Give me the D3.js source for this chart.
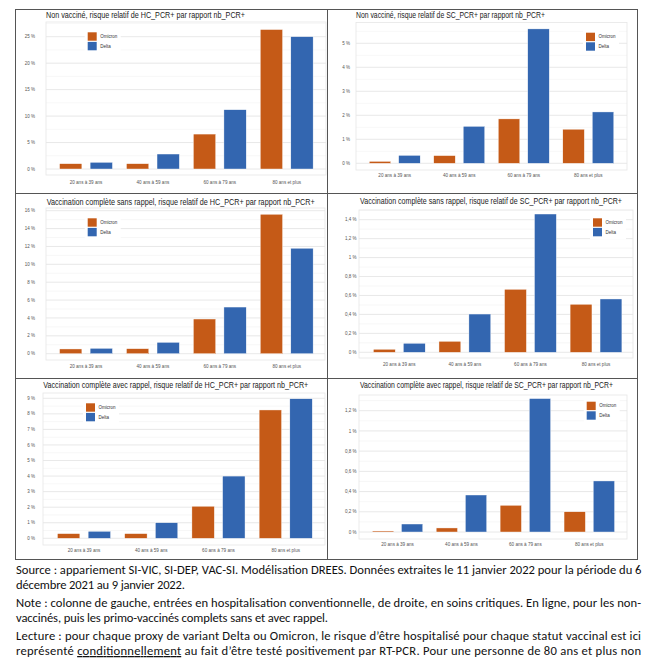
<!DOCTYPE html>
<html><head><meta charset="utf-8">
<script src="https://cdn.jsdelivr.net/npm/d3@7"></script>
<style>
html,body{margin:0;padding:0;background:#fff;}
svg{display:block;}
</style></head>
<body>
<svg id="c" width="646" height="658"></svg>
<script>
// ---------- DATA ----------
const categories = ["20 ans à 39 ans","40 ans à 59 ans","60 ans à 79 ans","80 ans et plus"];
const seriesNames = ["Omicron","Delta"];
const titles = [
  "Non vacciné, risque relatif de HC_PCR+ par rapport nb_PCR+",
  "Non vacciné, risque relatif de SC_PCR+ par rapport nb_PCR+",
  "Vaccination complète sans rappel, risque relatif de HC_PCR+ par rapport nb_PCR+",
  "Vaccination complète sans rappel, risque relatif de SC_PCR+ par rapport nb_PCR+",
  "Vaccination complète avec rappel, risque relatif de HC_PCR+ par rapport nb_PCR+",
  "Vaccination complète avec rappel, risque relatif de SC_PCR+ par rapport nb_PCR+"
];
// values in %
const omicronNvHc = [1.0, 1.0, 6.6, 26.35];
const deltaNvHc   = [1.26, 2.83, 11.2, 25.0];
const omicronNvSc = [0.08, 0.32, 1.85, 1.42];
const deltaNvSc   = [0.33, 1.54, 5.6, 2.14];
const omicronSrHc = [0.53, 0.56, 3.88, 15.6];
const deltaSrHc   = [0.6, 1.27, 5.22, 11.8];
const omicronSrSc = [0.032, 0.116, 0.665, 0.507];
const deltaSrSc   = [0.095, 0.404, 1.46, 0.563];
const omicronArHc = [0.3, 0.3, 2.06, 8.25];
const deltaArHc   = [0.45, 1.0, 4.0, 8.97];
const omicronArSc = [0.01, 0.04, 0.264, 0.2];
const deltaArSc   = [0.079, 0.366, 1.32, 0.505];
// y ticks
const ticksNvHc = [0, 5, 10, 15, 20, 25];
const ticksNvSc = [0, 1, 2, 3, 4, 5];
const ticksSrHc = [0, 2, 4, 6, 8, 10, 12, 14, 16];
const ticksSrSc = [0, 0.2, 0.4, 0.6, 0.8, 1, 1.2, 1.4];
const ticksArHc = [0, 1, 2, 3, 4, 5, 6, 7, 8, 9];
const ticksArSc = [0, 0.2, 0.4, 0.6, 0.8, 1, 1.2];

const noteLines = [
  "Source : appariement SI-VIC, SI-DEP, VAC-SI. Modélisation DREES. Données extraites le 11 janvier 2022 pour la période du 6",
  "décembre 2021 au 9 janvier 2022.",
  "Note : colonne de gauche, entrées en hospitalisation conventionnelle, de droite, en soins critiques. En ligne, pour les non-",
  "vaccinés, puis les primo-vaccinés complets sans et avec rappel.",
  "Lecture : pour chaque proxy de variant Delta ou Omicron, le risque d’être hospitalisé pour chaque statut vaccinal est ici",
  ["représenté ", "conditionnellement", " au fait d’être testé positivement par RT-PCR. Pour une personne de 80 ans et plus non"]
];

// ---------- LAYOUT ----------
const colors = {Omicron: "#C55A17", Delta: "#3366B0"};
const panels = [
  {om: omicronNvHc, de: deltaNvHc, ticks: ticksNvHc, title: 0,
   L: 46, R: 326, T: 22, B: 175, y0: 169, yT: 36.7, c1: 86, c4: 286.7,
   tx: 46, ty: 18, tw: 199, lx: 35, xly: 183.5, legX: 87.7, legY: 32.3},
  {om: omicronNvSc, de: deltaNvSc, ticks: ticksNvSc, title: 1,
   L: 356, R: 627, T: 22.5, B: 170, y0: 163.3, yT: 43.3, c1: 394.7, c4: 588.3,
   tx: 356, ty: 18, tw: 189, lx: 350, xly: 177, legX: 586, legY: 32.7},
  {om: omicronSrHc, de: deltaSrHc, ticks: ticksSrHc, title: 2,
   L: 46, R: 325, T: 208, B: 360, y0: 353.7, yT: 210.7, c1: 86, c4: 286.7,
   tx: 46.7, ty: 204.5, tw: 268, lx: 35, xly: 368, legX: 87.7, legY: 218.3},
  {om: omicronSrSc, de: deltaSrSc, ticks: ticksSrSc, title: 3,
   L: 359, R: 633, T: 210, B: 358, y0: 352.3, yT: 219.7, c1: 399.3, c4: 596,
   tx: 360, ty: 204, tw: 262, lx: 356.5, xly: 366, legX: 593, legY: 218.3},
  {om: omicronArHc, de: deltaArHc, ticks: ticksArHc, title: 4,
   L: 43, R: 325, T: 393, B: 545, y0: 538.3, yT: 398.3, c1: 84, c4: 285.7,
   tx: 43.3, ty: 388.3, tw: 265, lx: 35, xly: 552, legX: 86, legY: 403.3},
  {om: omicronArSc, de: deltaArSc, ticks: ticksArSc, title: 5,
   L: 359, R: 627, T: 395, B: 539, y0: 532, yT: 410.7, c1: 397.5, c4: 589.3,
   tx: 360, ty: 387.7, tw: 253, lx: 356.5, xly: 546, legX: 586.7, legY: 401.7}
];

const fr = d3.formatLocale({decimal: ",", thousands: " ", grouping: [3], currency: ["", " €"]});
const fmt = v => fr.format("~g")(v) + " %";

const svg = d3.select("#c");
const chartFont = "'Liberation Sans', Arial, sans-serif";

panels.forEach(p => {
  const g = svg.append("g");
  const y = d3.scaleLinear().domain([0, p.ticks[p.ticks.length - 1]]).range([p.y0, p.yT]);
  const x = d3.scalePoint().domain(categories).range([p.c1, p.c4]);
  const step = x.step();
  const sub = d3.scaleBand().domain(seriesNames).range([-0.395 * step, 0.395 * step]).paddingInner(0.27);

  // minor gridlines
  const stepT = p.ticks[1] - p.ticks[0];
  const minors = [];
  for (let i = 0; i < p.ticks.length; i++) {
    const v = p.ticks[i] + stepT / 2;
    if (y(v) > p.T) minors.push(v);
  }
  g.selectAll(".minor").data(minors).join("line")
    .attr("x1", p.L).attr("x2", p.R)
    .attr("y1", d => y(d)).attr("y2", d => y(d))
    .attr("stroke", "#f1f1f1").attr("stroke-width", 0.6);
  g.selectAll(".major").data(p.ticks).join("line")
    .attr("x1", p.L).attr("x2", p.R)
    .attr("y1", d => y(d)).attr("y2", d => y(d))
    .attr("stroke", "#e2e2e2").attr("stroke-width", 0.8);
  // panel border
  g.append("rect").attr("x", p.L).attr("y", p.T).attr("width", p.R - p.L).attr("height", p.B - p.T)
    .attr("fill", "none").attr("stroke", "#e6e6e6").attr("stroke-width", 0.8);

  // y labels
  g.selectAll(".yl").data(p.ticks).join("text")
    .attr("x", p.lx).attr("y", d => y(d) + 1.6)
    .attr("text-anchor", "end").attr("font-family", chartFont)
    .attr("font-size", 4.5).attr("fill", "#555").text(fmt);

  // x labels
  g.selectAll(".xl").data(categories).join("text")
    .attr("x", d => x(d)).attr("y", p.xly)
    .attr("text-anchor", "middle").attr("font-family", chartFont)
    .attr("font-size", 4.6).attr("fill", "#555").text(d => d);

  // bars
  const rows = [];
  categories.forEach((c, i) => {
    rows.push({cat: c, s: "Omicron", v: p.om[i]});
    rows.push({cat: c, s: "Delta", v: p.de[i]});
  });
  g.selectAll(".bar").data(rows).join("rect")
    .attr("x", d => x(d.cat) + sub(d.s))
    .attr("width", sub.bandwidth())
    .attr("y", d => y(d.v))
    .attr("height", d => y(0) - y(d.v))
    .attr("fill", d => colors[d.s])
    .attr("stroke", "#fff").attr("stroke-width", 0.4);

  // legend
  const lg = g.append("g").attr("transform", `translate(${p.legX},${p.legY})`);
  lg.append("rect").attr("x", -3).attr("y", -3).attr("width", 36).attr("height", 24).attr("fill", "#fff");
  seriesNames.forEach((s, i) => {
    lg.append("rect").attr("x", 0).attr("y", i * 9.6).attr("width", 9).attr("height", 8.4)
      .attr("fill", colors[s]);
    lg.append("text").attr("x", 12.5).attr("y", i * 9.6 + 5.8)
      .attr("font-family", chartFont).attr("font-size", 4.5).attr("fill", "#333").text(s);
  });

  // title (slightly tall, condensed look of the reference)
  g.append("g").attr("transform", `translate(${p.tx},${p.ty}) scale(1,1.2)`)
    .append("text").attr("x", 0).attr("y", 0)
    .attr("font-family", chartFont).attr("font-size", 7).attr("fill", "#1a1a1a")
    .attr("textLength", p.tw).attr("lengthAdjust", "spacingAndGlyphs")
    .text(titles[p.title]);
});

// table borders
const vLines = [15, 327, 637];
const hLines = [9, 193, 378, 559];
svg.selectAll(".vl").data(vLines).join("line")
  .attr("x1", d => d + 0.5).attr("x2", d => d + 0.5).attr("y1", hLines[0]).attr("y2", hLines[3] + 1)
  .attr("stroke", "#555").attr("stroke-width", 1);
svg.selectAll(".hl").data(hLines).join("line")
  .attr("x1", vLines[0]).attr("x2", vLines[2] + 1).attr("y1", d => d + 0.5).attr("y2", d => d + 0.5)
  .attr("stroke", "#555").attr("stroke-width", 1);

// note text
const noteLayout = [
  {y: 574, w: 625.5}, {y: 589, w: 169}, {y: 607, w: 625},
  {y: 622, w: 312}, {y: 640, w: 625}, {y: 655, w: 625}
];
const noteFont = "Carlito, Lato, 'Open Sans', sans-serif";
noteLines.forEach((line, i) => {
  const t = svg.append("text").attr("x", 16).attr("y", noteLayout[i].y)
    .attr("font-family", noteFont).attr("font-size", 12.6).attr("fill", "#111")
    .attr("textLength", noteLayout[i].w).attr("lengthAdjust", "spacing");
  if (Array.isArray(line)) {
    line.forEach((part, j) => {
      const ts = t.append("tspan").text(part);
      if (j === 1) ts.attr("text-decoration", "underline");
    });
  } else {
    t.text(line);
  }
});
</script>
</body></html>
